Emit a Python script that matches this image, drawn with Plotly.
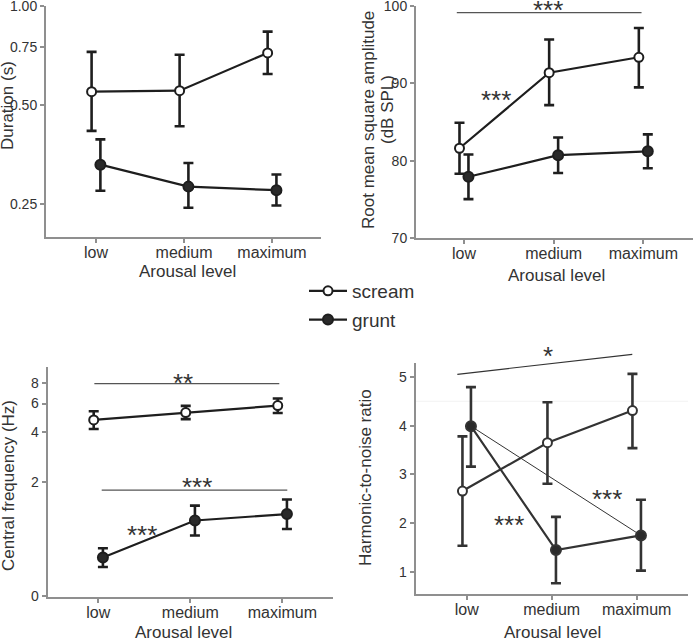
import math
import plotly.graph_objects as go

# ---------------- data ----------------
levels = ["low", "medium", "maximum"]
level_pos = [0, 1, 2]

dur_scream = [0.549, 0.553, 0.721]
dur_scream_hi = [0.726, 0.712, 0.837]
dur_scream_lo = [0.417, 0.431, 0.622]
dur_grunt = [0.329, 0.282, 0.275]
dur_grunt_hi = [0.393, 0.333, 0.307]
dur_grunt_lo = [0.274, 0.243, 0.247]

rms_scream = [81.6, 91.4, 93.4]
rms_scream_hi = [84.9, 95.7, 97.2]
rms_scream_lo = [78.3, 87.2, 89.5]
rms_grunt = [77.9, 80.7, 81.2]
rms_grunt_hi = [80.8, 83.0, 83.4]
rms_grunt_lo = [75.0, 78.4, 79.0]

cf_scream = [4.77, 5.29, 5.83]
cf_scream_hi = [5.39, 5.81, 6.44]
cf_scream_lo = [4.20, 4.82, 5.26]
cf_grunt = [0.69, 1.16, 1.27]
cf_grunt_hi = [0.786, 1.43, 1.56]
cf_grunt_lo = [0.604, 0.94, 1.03]

hnr_scream = [2.66, 3.65, 4.31]
hnr_scream_hi = [3.78, 4.48, 5.06]
hnr_scream_lo = [1.54, 2.81, 3.54]
hnr_grunt = [3.99, 1.45, 1.75]
hnr_grunt_hi = [4.79, 2.13, 2.48]
hnr_grunt_lo = [3.16, 0.77, 1.03]

dur_ticks = [0.25, 0.5, 0.75, 1.0]
dur_ticktext = ["0.25", "0.50", "0.75", "1.00"]
rms_ticks = [70, 80, 90, 100]
cf_ticks = [0.4, 2, 4, 6, 8]
cf_ticktext = ["0", "2", "4", "6", "8"]
hnr_ticks = [1, 2, 3, 4, 5]

# ---------------- layout helpers ----------------
W, H = 694, 639
OFF = 0.05
DARK = "#1e1e1e"
AXC = "#8f8f8f"
TXT = "#333333"
FONT = "Liberation Sans, Arial, sans-serif"


def dx(a, b):
    return [a / W, b / W]


def dy(top, bottom):
    return [1 - bottom / H, 1 - top / H]


def px(xp):
    return xp / W


def py(yp):
    return 1 - yp / H


fig = go.Figure()


def add_series(n, means, hi, lo, filled, name, show, color=DARK):
    xs = [p + (OFF if filled else -OFF) for p in level_pos]
    fig.add_trace(go.Scatter(
        x=xs, y=means, mode="lines+markers", name=name,
        xaxis=f"x{n}", yaxis=f"y{n}", showlegend=show, legendgroup=name,
        line=dict(color=color, width=2.2),
        marker=dict(size=9 if not filled else 10,
                    color=("#2a2a2a" if filled else "white"),
                    line=dict(color=color, width=2)),
        error_y=dict(type="data", symmetric=False,
                     array=[h - m for h, m in zip(hi, means)],
                     arrayminus=[m - l for m, l in zip(means, lo)],
                     color=color, thickness=2.6, width=5),
    ))


add_series(1, dur_scream, dur_scream_hi, dur_scream_lo, False, "scream", True)
add_series(1, dur_grunt, dur_grunt_hi, dur_grunt_lo, True, "grunt", True)
add_series(2, rms_scream, rms_scream_hi, rms_scream_lo, False, "scream", False)
add_series(2, rms_grunt, rms_grunt_hi, rms_grunt_lo, True, "grunt", False)
add_series(3, cf_scream, cf_scream_hi, cf_scream_lo, False, "scream", False)
add_series(3, cf_grunt, cf_grunt_hi, cf_grunt_lo, True, "grunt", False)

# thin significance line between grunt low and grunt maximum (HNR)
fig.add_trace(go.Scatter(
    x=[level_pos[0] + OFF, level_pos[2] + OFF], y=[hnr_grunt[0], hnr_grunt[2]],
    mode="lines", xaxis="x4", yaxis="y4", showlegend=False, hoverinfo="skip",
    line=dict(color="#333333", width=1)))
add_series(4, hnr_scream, hnr_scream_hi, hnr_scream_lo, False, "scream", False, "#333333")
add_series(4, hnr_grunt, hnr_grunt_hi, hnr_grunt_lo, True, "grunt", False, "#333333")


def xax(dom, rng, anchor):
    return dict(domain=dom, range=rng, anchor=anchor, tickvals=level_pos, ticktext=levels,
                showline=True, linecolor=AXC, linewidth=2, ticks="outside", ticklen=4,
                tickcolor=AXC, tickwidth=1.5, showgrid=False, zeroline=False,
                ticklabelstandoff=-4, ticklabeloverflow="allow", automargin=False,
                tickfont=dict(size=16, color=TXT, family=FONT))


def yax(dom, rng, anchor, vals, text=None, typ="linear"):
    d = dict(domain=dom, range=rng, anchor=anchor, type=typ, tickvals=vals,
             showline=True, linecolor=AXC, linewidth=2, ticks="outside", ticklen=4,
             tickcolor=AXC, tickwidth=1.5, showgrid=False, zeroline=False,
             ticklabeloverflow="allow", automargin=False,
             tickfont=dict(size=14, color=TXT, family=FONT))
    if text is not None:
        d["ticktext"] = text
    return d


fig.update_layout(
    width=W, height=H, autosize=False,
    margin=dict(l=0, r=0, t=0, b=0, pad=0, autoexpand=False),
    paper_bgcolor="white", plot_bgcolor="white",
    font=dict(family=FONT, color=TXT),
    xaxis=xax(dx(46, 320.7), [-0.568, 2.553], "y"),
    yaxis=yax(dy(6, 237), [math.log10(0.198), math.log10(1.002)], "x", dur_ticks, dur_ticktext, "log"),
    xaxis2=xax(dx(416, 693), [-0.535, 2.554], "y2"),
    yaxis2=yax(dy(6, 237.7), [70, 100.05], "x2", rms_ticks),
    xaxis3=xax(dx(47.7, 333.3), [-0.55, 2.554], "y3"),
    yaxis3=yax(dy(366.5, 597), [math.log10(0.396), math.log10(10.1)], "x3", cf_ticks, cf_ticktext, "log"),
    xaxis4=xax(dx(415.7, 688.3), [-0.6, 2.607], "y4"),
    yaxis4=yax(dy(362.7, 594), [0.55, 5.29], "x4", hnr_ticks),
    legend=dict(x=px(304), y=py(272), xanchor="left", yanchor="top",
                font=dict(size=19, color=TXT, family=FONT), bgcolor="rgba(0,0,0,0)",
                itemwidth=38, tracegroupgap=1),
    showlegend=True,
)

ann = []


def title(text, xp, yp, angle=0, size=17):
    ann.append(dict(text=text, x=px(xp), y=py(yp), xref="paper", yref="paper",
                    showarrow=False, textangle=angle, xanchor="center", yanchor="middle",
                    font=dict(size=size, color=TXT, family=FONT)))


title("Duration (s)", 8, 106, -90)
title("Root mean square amplitude", 368, 120, -90)
title("(dB SPL)", 387, 110, -90)
title("Central frequency (Hz)", 8, 486, -90)
title("Harmonic-to-noise ratio", 365, 478, -90)
title("Arousal level", 187, 272)
title("Arousal level", 556, 275)
title("Arousal level", 183, 632)
title("Arousal level", 552, 632)

STAR = 26


def stars_data(text, n, x, y):
    ann.append(dict(text=text, x=x, y=y, xref=f"x{n}", yref=f"y{n}", showarrow=False,
                    xanchor="center", yanchor="middle", yshift=-7,
                    font=dict(size=STAR, color="#333333", family=FONT)))


def stars_paper(text, xp, yp):
    ann.append(dict(text=text, x=px(xp), y=py(yp), xref="paper", yref="paper", showarrow=False,
                    xanchor="center", yanchor="middle", yshift=-7,
                    font=dict(size=STAR, color="#333333", family=FONT)))


# RMS
stars_paper("***", 548, 3)
stars_data("***", 2, 0.36, 88.8)
# Central frequency (annotation positions on log axes are log10 values)
stars_data("**", 3, 0.92, math.log10(8.87))
stars_data("***", 3, 1.07, math.log10(2.06))
stars_data("***", 3, 0.48, math.log10(1.05))
# HNR
stars_paper("*", 548, 349)
stars_data("***", 4, 1.65, 2.64)
stars_data("***", 4, 0.50, 2.1)

fig.update_layout(annotations=ann)

shapes = [
    dict(type="line", xref="x2", yref="y2", x0=-0.08, x1=1.98, y0=99.2, y1=99.2,
         line=dict(color="#555555", width=1.2)),
    dict(type="line", xref="x3", yref="y3", x0=-0.043, x1=1.967,
         y0=7.95, y1=7.95, line=dict(color="#555555", width=1.2)),
    dict(type="line", xref="x3", yref="y3", x0=0.037, x1=2.054,
         y0=1.78, y1=1.78, line=dict(color="#555555", width=1.2)),
    dict(type="line", xref="x4", yref="paper", x0=-0.11, x1=1.948,
         y0=py(374.3), y1=py(354.3), line=dict(color="#333333", width=1.2)),
    dict(type="line", xref="x4", yref="y4", x0=-0.6, x1=2.607, y0=4.5, y1=4.5,
         line=dict(color="#f2f2f2", width=1), layer="below"),
]
fig.update_layout(shapes=shapes)

fig.write_html("out.html", config={"displayModeBar": False, "responsive": False})
with open("out.html", "r", encoding="utf-8") as f:
    html = f.read()
html = html.replace("<head>", "<head><style>html,body{margin:0;padding:0;overflow:hidden;}</style>", 1)
with open("out.html", "w", encoding="utf-8") as f:
    f.write(html)
